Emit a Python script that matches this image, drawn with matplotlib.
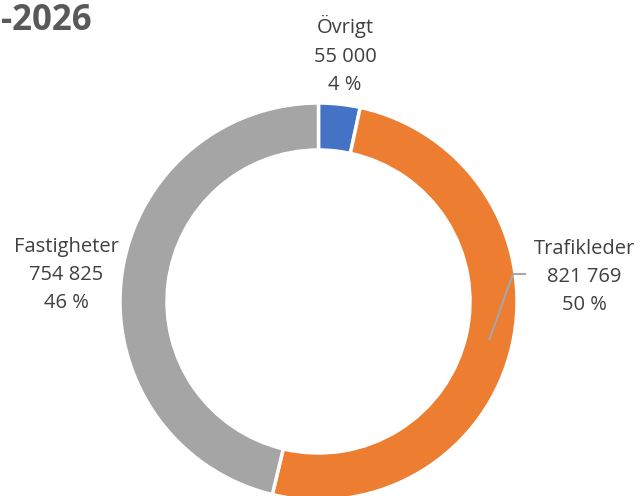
import matplotlib
matplotlib.use("Agg")
import matplotlib.pyplot as plt
import numpy as np

categories = ["Övrigt", "Trafikleder", "Fastigheter"]
values = [55000, 821769, 754825]
value_labels = ["55 000", "821 769", "754 825"]
pct_labels = ["4 %", "50 %", "46 %"]
colors = ["#4472C4", "#ED7D31", "#A5A5A5"]
title = "-2026"

W, H = 640, 496
fig = plt.figure(figsize=(W / 100, H / 100), dpi=100)
ax = fig.add_axes([0, 0, 1, 1])

cx, cy = 318.5, H - 301.5
R, ring = 198.5, 47
wedges, _ = ax.pie(values, colors=colors, startangle=90, counterclock=False,
                   radius=R, center=(cx, cy), frame=True,
                   wedgeprops=dict(width=ring, edgecolor="white", linewidth=2.5))
ax.set_xlim(0, W)
ax.set_ylim(0, H)
ax.set_aspect("equal")
ax.axis("off")

font = "Open Sans"
txtcol = "#404040"
label_pos = {"Övrigt": (345, H - 55), "Trafikleder": (584, H - 277), "Fastigheter": (66, H - 275)}
for c, v, p in zip(categories, value_labels, pct_labels):
    x, y = label_pos[c]
    ax.text(x, y, f"{c}\n{v}\n{p}", ha="center", va="center", fontsize=14.5,
            family=font, color=txtcol, linespacing=1.55)

# leader line for Trafikleder
w = wedges[1]
mid = np.deg2rad((w.theta1 + w.theta2) / 2)
rm = R - ring / 2
x0, y0 = cx + rm * np.cos(mid), cy + rm * np.sin(mid)
ax.plot([x0, 513, 526], [y0, H - 274, H - 274], color="#A6A6A6", lw=1.5,
        solid_capstyle="butt")

ax.text(1, H - 20.5, title, ha="left", va="center", fontsize=25, fontweight="bold",
        family=font, color="#595959")

fig.savefig("out.png", dpi=100)
